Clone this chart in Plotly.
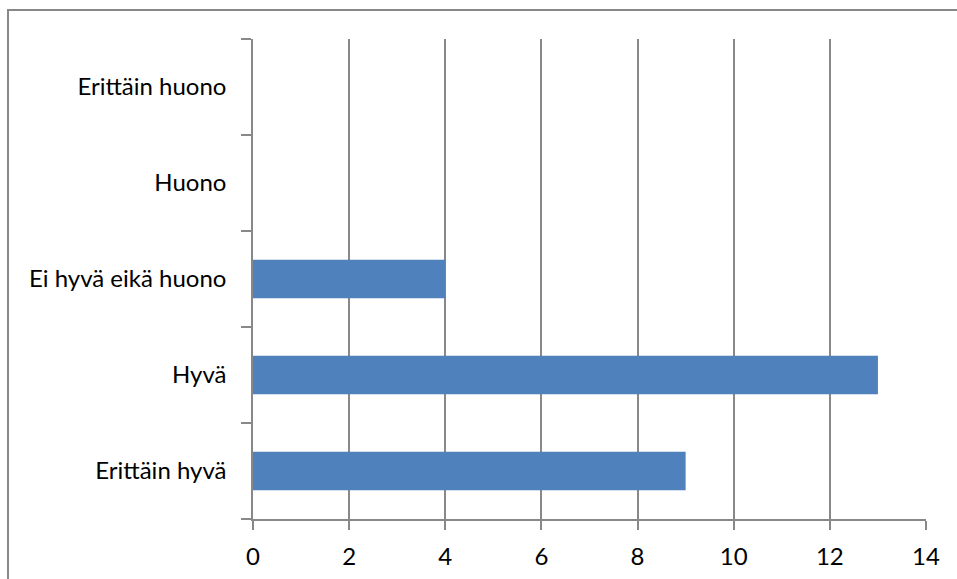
import plotly.graph_objects as go

categories = ["Erittäin hyvä", "Hyvä", "Ei hyvä eikä huono", "Huono", "Erittäin huono"]
values = [9, 13, 4, 0, 0]
x_ticks = [0, 2, 4, 6, 8, 10, 12, 14]

W, H = 957, 579
L, R, T, B = 253, 31, 39, 60
pw = W - L - R
ph = H - T - B

fig = go.Figure(go.Bar(
    y=categories, x=values, orientation="h",
    marker=dict(color="#4F81BD", line=dict(width=0)),
    width=0.4,
))

grid = "#888888"
fig.update_layout(
    width=W, height=H,
    margin=dict(l=L, r=R, t=T, b=B, autoexpand=False),
    paper_bgcolor="white", plot_bgcolor="white",
    font=dict(family="Lato", size=24, color="black"),
    showlegend=False,
    xaxis=dict(range=[0, 14], tickvals=x_ticks, showgrid=True, gridcolor=grid, gridwidth=1.5,
               zeroline=False, showline=True, linecolor=grid, linewidth=1.5,
               ticks="outside", ticklen=9, tickcolor=grid, tickwidth=1.5,
               ticklabelstandoff=6, fixedrange=True, automargin=False),
    yaxis=dict(categoryorder="array", categoryarray=categories, showgrid=False,
               zeroline=False, showline=True, linecolor=grid, linewidth=1.5,
               ticks="outside", tickson="boundaries", ticklen=10, tickcolor=grid, tickwidth=1.5,
               ticklabelstandoff=20, fixedrange=True, automargin=False),
    shapes=[dict(type="rect", xref="paper", yref="paper",
                 x0=(8 - L) / pw, x1=(W + 30 - L) / pw,
                 y0=-(H + 30 - T - ph) / ph, y1=(H - 10 - B) / ph,
                 line=dict(color="#888888", width=2))],
)

fig.write_html("out.html")
